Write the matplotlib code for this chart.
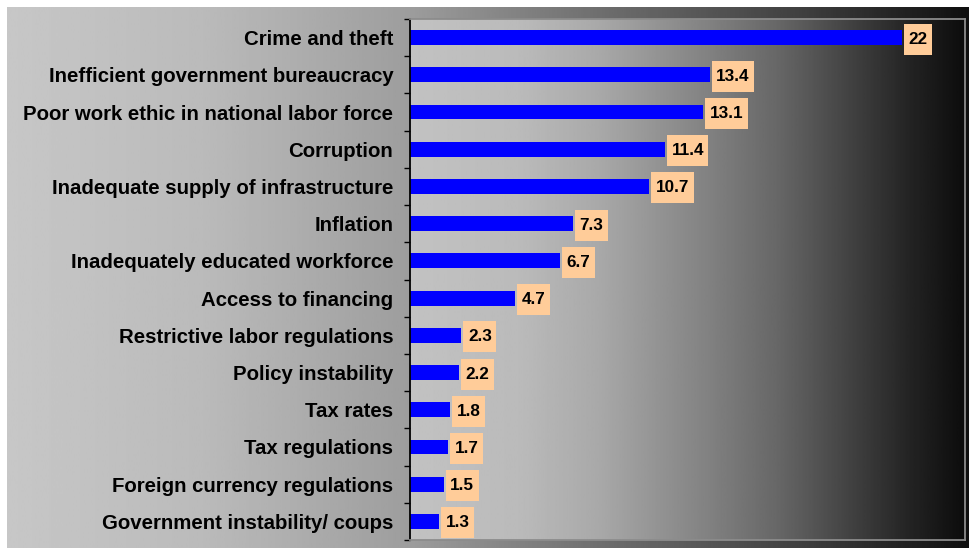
import numpy as np
import matplotlib.pyplot as plt
from matplotlib.path import Path

plt.rcParams['font.family'] = ['Liberation Sans', 'DejaVu Sans']

# data, top to bottom as in the chart
categories = [
    "Crime and theft",
    "Inefficient government bureaucracy",
    "Poor work ethic in national labor force",
    "Corruption",
    "Inadequate supply of infrastructure",
    "Inflation",
    "Inadequately educated workforce",
    "Access to financing",
    "Restrictive labor regulations",
    "Policy instability",
    "Tax rates",
    "Tax regulations",
    "Foreign currency regulations",
    "Government instability/ coups",
]
values = [22, 13.4, 13.1, 11.4, 10.7, 7.3, 6.7, 4.7, 2.3, 2.2, 1.8, 1.7, 1.5, 1.3]

W, H = 969, 550
fig = plt.figure(figsize=(W / 100, H / 100), dpi=100)
fig.patch.set_facecolor('white')

# outer gray-to-black background
bg = fig.add_axes([7 / W, 2 / H, 962 / W, 541 / H])
xs = np.linspace(0, W, 400)
shade = np.interp(xs, [0, 200, 400, 600, 800, 969], [0.78, 0.73, 0.62, 0.43, 0.25, 0.06])
bg.imshow(shade[None, :], cmap='gray', vmin=0, vmax=1, aspect='auto', extent=[0, 1, 0, 1])
bg.axis('off')

# plot area
ax = fig.add_axes([410 / W, 10 / H, 555 / W, 521 / H])
px = np.linspace(410, 965, 400)
pshade = np.interp(px, [410, 520, 600, 700, 780, 850, 910, 965],
                   [0.76, 0.73, 0.66, 0.52, 0.40, 0.26, 0.14, 0.05])
ax.imshow(pshade[None, :], cmap='gray', vmin=0, vmax=1, aspect='auto',
          extent=[0, 1, 0, 1], transform=ax.transAxes, zorder=0)

y = np.arange(len(categories))
ax.barh(y, values, height=0.4, color='#0000FF', zorder=2)


def label_box(x0, y0, width, height, mutation_size):
    # wider vertical padding than horizontal, like the original labels
    hp, vp = 4.5, 8.0
    x0, x1 = x0 - hp, x0 + width + hp
    y0, y1 = y0 - vp, y0 + height + vp
    return Path([(x0, y0), (x1, y0), (x1, y1), (x0, y1), (x0, y0)], closed=True)


for yi, v in zip(y, values):
    ax.annotate(f"{v:g}", xy=(v, yi), xytext=(6.5, -1.5), textcoords='offset pixels',
                ha='left', va='center', fontsize=12.3, fontweight='bold', color='black',
                bbox=dict(boxstyle=label_box, fc='#FFCC99', ec='none'), zorder=3)

ax.set_xlim(0, 24.82)
ax.set_ylim(len(categories) - 0.5, -0.5)

ax.set_yticks(y)
ax.set_yticklabels(categories, fontsize=14.7, fontweight='bold')
ax.set_yticks(np.arange(len(categories) + 1) - 0.5, minor=True)
ax.tick_params(axis='y', which='major', length=0, pad=12)
ax.tick_params(axis='y', which='minor', length=4.5, width=1, color='black', direction='out')
ax.set_xticks([])

ax.spines['left'].set_color('black')
ax.spines['left'].set_linewidth(1.3)
for s in ['top', 'right', 'bottom']:
    ax.spines[s].set_color('#8c8c8c')
    ax.spines[s].set_linewidth(1.3)

fig.savefig('out.png', dpi=100)
